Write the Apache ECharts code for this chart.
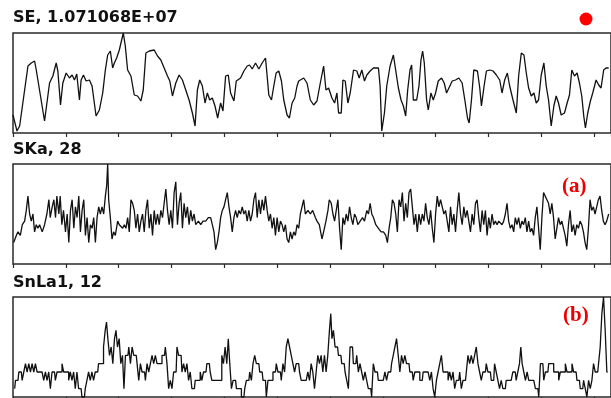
<!DOCTYPE html>
<html>
<head>
<meta charset="utf-8">
<script src="https://cdn.jsdelivr.net/npm/echarts@6/dist/echarts.min.js"></script>
<style>
  html, body { margin: 0; padding: 0; background: #fff; }
  #chart { width: 611px; height: 398px; }
</style>
</head>
<body>
<div id="chart"></div>
<script>
// Scan position runs 0..1800 channels; tick marks every 159 channels.
const scanMax = 1800;
const tickStep = 159;

// Panel titles
const titleSE = 'SE, 1.071068E+07';
const titleSKa = 'SKa, 28';
const titleSnLa1 = 'SnLa1, 12';
const tagA = '(a)';
const tagB = '(b)';

// SE signal, percent of full scale (1.071068E+07); [channel, value]
const seData = [
  [0,18],[12,2],[20,7],[45,67],[55,70],[65,72],[70,63],[95,12],[110,50],[120,57],
  [130,70],[135,62],[143,28],[150,50],[160,60],[170,55],[178,58],[185,53],[192,59],[200,33],
  [205,53],[212,58],[220,52],[230,53],[238,47],[250,17],[260,23],[270,40],[278,63],[285,78],
  [293,82],[300,65],[305,70],[312,75],[320,83],[325,90],[332,100],[338,87],[345,63],[355,57],
  [365,38],[375,37],[385,32],[392,43],[400,80],[410,82],[425,83],[435,77],[445,73],[455,65],
  [465,57],[472,52],[480,37],[490,50],[500,58],[510,53],[520,43],[530,33],[540,20],[548,7],
  [555,43],[562,53],[570,47],[578,30],[585,40],[592,33],[600,35],[608,27],[616,15],[625,30],
  [632,22],[640,57],[648,58],[655,40],[665,32],[672,52],[685,55],[695,62],[705,67],[712,68],
  [720,64],[730,70],[740,64],[750,70],[760,75],[765,57],[770,38],[778,33],[785,47],[792,60],
  [800,62],[808,52],[815,33],[825,18],[832,15],[840,30],[848,35],[855,47],
  [860,52],[875,55],[885,50],[895,33],[905,28],[915,32],[925,50],[935,67],[942,43],[950,45],
  [960,35],[968,30],[975,40],[980,20],[988,20],[993,53],[1000,52],[1008,30],[1015,40],[1025,63],
  [1035,62],[1042,55],[1050,63],[1058,52],[1065,58],[1075,62],[1085,65],[1100,65],[1105,47],[1110,2],
  [1118,20],[1125,47],[1135,67],[1145,78],[1150,77],[1160,45],[1168,33],[1175,27],[1182,17],[1188,43],
  [1195,63],[1200,68],[1205,33],[1215,33],[1222,47],[1228,73],[1233,82],[1238,70],[1245,33],[1250,23],
  [1258,40],[1265,33],[1272,40],[1280,52],[1290,55],[1298,50],[1305,40],[1315,47],[1322,52],[1332,53],
  [1342,55],[1352,50],[1360,33],[1368,15],[1373,10],[1380,33],[1387,63],[1398,62],[1405,45],[1410,27],
  [1418,47],[1425,62],[1435,63],[1445,62],[1455,58],[1465,53],[1472,40],[1480,53],[1488,60],[1495,47],
  [1505,33],[1515,20],[1522,57],[1530,80],[1538,78],[1545,60],[1552,45],[1560,37],[1568,40],[1575,30],
  [1582,33],[1590,58],[1598,70],[1605,47],[1612,33],[1620,7],[1628,27],[1635,37],[1642,30],[1650,18],
  [1660,20],[1668,30],[1675,38],[1682,63],[1690,57],[1698,60],[1705,50],[1712,37],[1718,17],[1723,5],
  [1730,20],[1738,32],[1745,40],[1755,53],[1763,48],[1770,45],[1778,63],[1785,65],[1793,65]
];

// SKa counts (full scale 28); [channel, counts]
const skaData = [
  [2,6],[10,8],[15,9],[22,8],[28,11],[35,12],[40,15],[45,19],[50,14],[55,12],
  [60,14],[65,9],[70,11],[75,10],[80,11],[88,9],[95,11],[102,14],[108,18],[112,13],
  [118,16],[123,18],[128,13],[132,19],[138,14],[142,19],[147,11],[152,15],[158,9],[163,14],
  [168,6],[173,15],[178,18],[183,10],[188,16],[193,13],[198,19],[203,9],[208,15],[213,18],
  [218,8],[223,13],[228,6],[233,11],[238,10],[243,13],[248,6],[253,13],[258,16],[263,14],
  [268,16],[273,14],[278,19],[282,22],[285,28],[288,18],[293,13],[298,7],[303,9],[308,8],
  [315,12],[320,11],[325,11],[330,10],[335,11],[340,10],[345,13],[350,9],[355,18],[360,17],
  [365,15],[370,10],[375,14],[380,9],[385,12],[390,14],[395,9],[400,15],[405,18],[410,10],
  [415,14],[420,8],[425,15],[430,11],[435,14],[440,11],[445,15],[450,13],[455,17],[460,21],
  [465,15],[470,11],[475,15],[480,10],[485,20],[490,23],[495,11],[500,17],[505,20],[510,10],
  [515,17],[520,13],[525,16],[530,11],[535,15],[540,12],[545,14],[550,11],[558,12],[565,11],
  [572,12],[580,12],[588,13],[595,13],[600,11],[605,9],[610,4],[615,6],[620,9],[625,13],
  [630,15],[635,16],[640,18],[645,20],[650,16],[655,13],[660,9],[665,13],[670,15],[675,13],
  [680,15],[685,14],[690,16],[695,14],[700,15],[705,12],[710,15],[715,12],[720,14],[725,18],
  [730,20],[735,13],[740,18],[745,14],[750,18],[755,15],[760,19],[765,15],[770,12],[775,14],
  [780,10],[785,13],[790,8],[795,13],[800,9],[805,12],[810,11],[815,9],[820,11],[825,7],
  [830,6],[835,9],[840,7],[845,9],[850,8],[855,11],
  [860,10],[865,14],[875,18],[880,14],[888,15],[895,14],[902,15],[910,13],[915,12],[922,11],
  [930,7],[935,9],[942,12],[948,15],[952,18],[958,17],[963,14],[968,12],[973,15],[978,18],
  [983,10],[988,4],[993,13],[998,11],[1003,14],[1008,12],[1013,16],[1018,13],[1023,11],[1028,14],
  [1033,13],[1038,11],[1045,12],[1052,13],[1058,12],[1065,15],[1070,14],[1075,17],[1080,14],[1085,13],
  [1092,11],[1100,10],[1108,9],[1115,9],[1122,8],[1127,6],[1132,10],[1137,13],[1142,18],[1147,17],
  [1152,14],[1157,9],[1162,18],[1167,16],[1172,20],[1177,12],[1182,17],[1187,13],[1192,20],[1197,21],
  [1202,16],[1207,11],[1212,14],[1217,9],[1222,14],[1227,11],[1232,14],[1237,12],[1242,17],[1247,13],
  [1252,11],[1257,15],[1262,10],[1267,6],[1272,14],[1277,19],[1282,16],[1287,18],[1292,16],[1297,14],
  [1302,15],[1307,12],[1312,9],[1317,16],[1322,11],[1327,14],[1332,9],[1337,15],[1342,20],[1347,14],
  [1352,11],[1357,16],[1362,13],[1367,15],[1372,12],[1377,9],[1382,14],[1387,11],[1392,17],[1397,18],
  [1402,13],[1407,9],[1412,15],[1417,11],[1422,15],[1427,8],[1432,13],[1437,10],[1442,14],[1447,11],
  [1452,12],[1457,11],[1462,12],[1467,12],[1472,11],[1477,12],[1482,14],[1487,17],[1492,12],[1497,10],
  [1502,11],[1507,9],[1512,13],[1517,11],[1522,13],[1527,10],[1532,12],[1537,11],[1542,13],[1547,9],
  [1552,12],[1557,9],[1562,10],[1567,8],[1572,13],[1577,16],[1582,10],[1587,4],[1592,13],[1597,20],
  [1602,19],[1607,18],[1612,17],[1617,14],[1622,17],[1627,13],[1632,7],[1637,10],[1642,13],[1647,11],
  [1652,12],[1657,10],[1662,8],[1667,5],[1672,11],[1677,15],[1682,9],[1687,11],[1692,8],[1697,11],
  [1702,10],[1707,12],[1712,11],[1717,9],[1722,6],[1727,4],[1732,10],[1737,18],[1742,15],[1747,16],
  [1752,14],[1757,16],[1762,18],[1767,19],[1772,15],[1777,12],[1782,11],[1787,12],[1793,14]
];

// SnLa1 counts (full scale 12); [channel, counts]
const snla1Data = [
  [5,1],[10,2],[15,2],[20,3],[25,3],[30,2],[35,3],[40,4],[45,3],[50,4],
  [55,3],[60,4],[65,3],[70,4],[75,3],[80,3],[85,3],[90,3],[95,2],[100,3],
  [105,2],[110,3],[115,1],[120,3],[125,3],[130,2],[135,3],[140,3],[145,3],[150,4],
  [155,3],[160,3],[165,3],[170,2],[175,3],[180,2],[185,3],[190,1],[195,3],[200,1],
  [205,1],[210,0],[215,0],[220,1],[225,2],[230,3],[235,2],[240,3],[245,2],[250,3],
  [255,3],[260,4],[265,4],[270,4],[275,6],[280,8],[283,9],[288,7],[293,5],[298,6],
  [303,4],[308,7],[312,8],[317,6],[322,7],[327,4],[332,5],[336,1],[341,5],[346,5],
  [351,6],[356,4],[361,6],[366,5],[371,5],[376,4],[381,2],[386,4],[391,3],[396,3],
  [401,2],[406,4],[411,3],[416,4],[421,5],[426,4],[431,5],[436,4],[441,4],[446,4],
  [451,5],[456,5],[461,6],[466,4],[471,1],[476,2],[481,1],[486,3],[491,3],[496,6],
  [501,5],[506,5],[511,3],[516,4],[521,3],[526,4],[531,2],[536,3],[541,1],[546,1],
  [551,2],[556,2],[561,2],[566,3],[571,2],[576,3],[581,3],[586,4],[591,4],[596,3],
  [601,2],[606,2],[611,2],[616,2],[621,2],[626,2],[631,5],[636,4],[641,6],[646,4],
  [650,7],[655,4],[660,1],[665,2],[670,2],[675,1],[680,1],[685,1],[690,0],[695,0],
  [700,1],[705,2],[710,2],[715,3],[720,2],[725,4],[730,5],[735,4],[740,4],[745,3],
  [750,3],[755,2],[760,2],[765,0],[770,2],[775,2],[780,2],[785,3],[790,3],[795,4],
  [800,3],[805,3],[810,2],[815,4],[820,3],[825,6],[830,7],[835,6],[840,5],[845,4],
  [850,3],[855,4],
  [860,4],[865,3],[870,2],[875,2],[880,2],[885,2],[890,3],[895,2],[900,4],[905,3],
  [910,1],[915,3],[920,5],[925,4],[930,5],[935,3],[940,5],[945,3],[950,5],[955,8],
  [958,10],[962,7],[967,8],[972,6],[977,6],[982,5],[987,5],[992,4],[997,4],[1002,3],
  [1007,2],[1012,1],[1017,6],[1022,6],[1027,4],[1032,4],[1037,5],[1042,3],[1047,4],[1052,3],
  [1057,2],[1062,3],[1067,2],[1072,1],[1077,1],[1082,0],[1087,4],[1092,3],[1097,3],[1102,2],
  [1107,2],[1112,2],[1117,2],[1122,3],[1127,2],[1132,3],[1137,3],[1142,4],[1147,5],[1152,6],
  [1157,7],[1162,5],[1167,3],[1172,5],[1177,4],[1182,5],[1187,4],[1192,4],[1197,3],[1202,3],
  [1207,2],[1212,3],[1217,3],[1222,3],[1227,2],[1232,2],[1237,3],[1242,3],[1247,3],[1252,3],
  [1257,2],[1262,3],[1267,1],[1272,0],[1277,2],[1282,3],[1287,4],[1292,5],[1297,3],[1302,3],
  [1307,3],[1312,2],[1317,3],[1322,2],[1327,3],[1332,1],[1337,2],[1342,2],[1347,3],[1352,1],
  [1357,2],[1362,2],[1367,3],[1372,5],[1377,4],[1382,5],[1387,4],[1392,5],[1397,6],[1402,4],
  [1407,3],[1412,2],[1417,3],[1422,3],[1427,4],[1432,3],[1437,3],[1442,2],[1447,2],[1452,4],
  [1457,3],[1462,2],[1467,1],[1472,2],[1477,1],[1482,1],[1487,2],[1492,2],[1497,2],[1502,2],
  [1507,3],[1512,3],[1517,2],[1522,3],[1527,4],[1530,6],[1535,4],[1540,3],[1545,2],[1550,3],
  [1555,2],[1560,2],[1565,2],[1570,2],[1575,1],[1580,1],[1585,0],[1590,4],[1595,4],[1600,2],
  [1605,3],[1610,3],[1615,4],[1620,4],[1625,4],[1630,3],[1635,3],[1640,3],[1645,2],[1650,3],
  [1655,3],[1660,3],[1665,4],[1670,3],[1675,3],[1680,3],[1685,4],[1690,3],[1695,3],[1700,2],
  [1705,2],[1710,1],[1715,1],[1720,2],[1725,1],[1730,0],[1735,2],[1740,1],[1745,2],[1750,4],
  [1755,3],[1760,3],[1765,4],[1770,6],[1775,10],[1780,12],[1785,8],[1790,3]
];

const panels = [
  { title: titleSE,    data: seData,    yMax: 100, top: 33,  step: false },
  { title: titleSKa,   data: skaData,   yMax: 28,  top: 164, step: false },
  { title: titleSnLa1, data: snla1Data, yMax: 12,  top: 297, step: 'middle' }
];

const chart = echarts.init(document.getElementById('chart'), null, { renderer: 'canvas' });

const grids = [], xAxes = [], yAxes = [], series = [];
panels.forEach((p, i) => {
  grids.push({
    left: 13, top: p.top, width: 600, height: 100,
    show: true, borderColor: '#2a2a2a', borderWidth: 1.5, backgroundColor: '#fff'
  });
  xAxes.push({
    type: 'value', gridIndex: i, min: 0, max: scanMax, interval: tickStep,
    axisLine: { show: false },
    axisTick: { show: true, inside: false, length: 4, lineStyle: { color: '#2a2a2a', width: 1.2 } },
    axisLabel: { show: false },
    splitLine: { show: false }
  });
  yAxes.push({
    type: 'value', gridIndex: i, min: 0, max: p.yMax,
    axisLine: { show: false }, axisTick: { show: false },
    axisLabel: { show: false }, splitLine: { show: false }
  });
  series.push({
    type: 'line', xAxisIndex: i, yAxisIndex: i, data: p.data,
    step: p.step, showSymbol: false, symbol: 'none', animation: false,
    lineStyle: { color: '#111', width: 1.3 },
    clip: true
  });
});

const titleFont = 'bold 16px "DejaVu Sans", sans-serif';
const tagFont = 'bold 21px "Liberation Serif", serif';

chart.setOption({
  animation: false,
  backgroundColor: '#fff',
  grid: grids,
  xAxis: xAxes,
  yAxis: yAxes,
  series: series,
  graphic: [
    { type: 'text', left: 13, top: 10, style: { text: titleSE, font: titleFont, fill: '#111' } },
    { type: 'text', left: 13, top: 142, style: { text: titleSKa, font: titleFont, fill: '#111' } },
    { type: 'text', left: 13, top: 275, style: { text: titleSnLa1, font: titleFont, fill: '#111' } },
    { type: 'circle', shape: { cx: 586, cy: 19, r: 6.5 }, style: { fill: '#ff0000' } },
    { type: 'text', left: 562, top: 176, style: { text: tagA, font: tagFont, fill: '#ee0000' } },
    { type: 'text', left: 563, top: 305, style: { text: tagB, font: tagFont, fill: '#ee0000' } }
  ]
});
</script>
</body>
</html>
